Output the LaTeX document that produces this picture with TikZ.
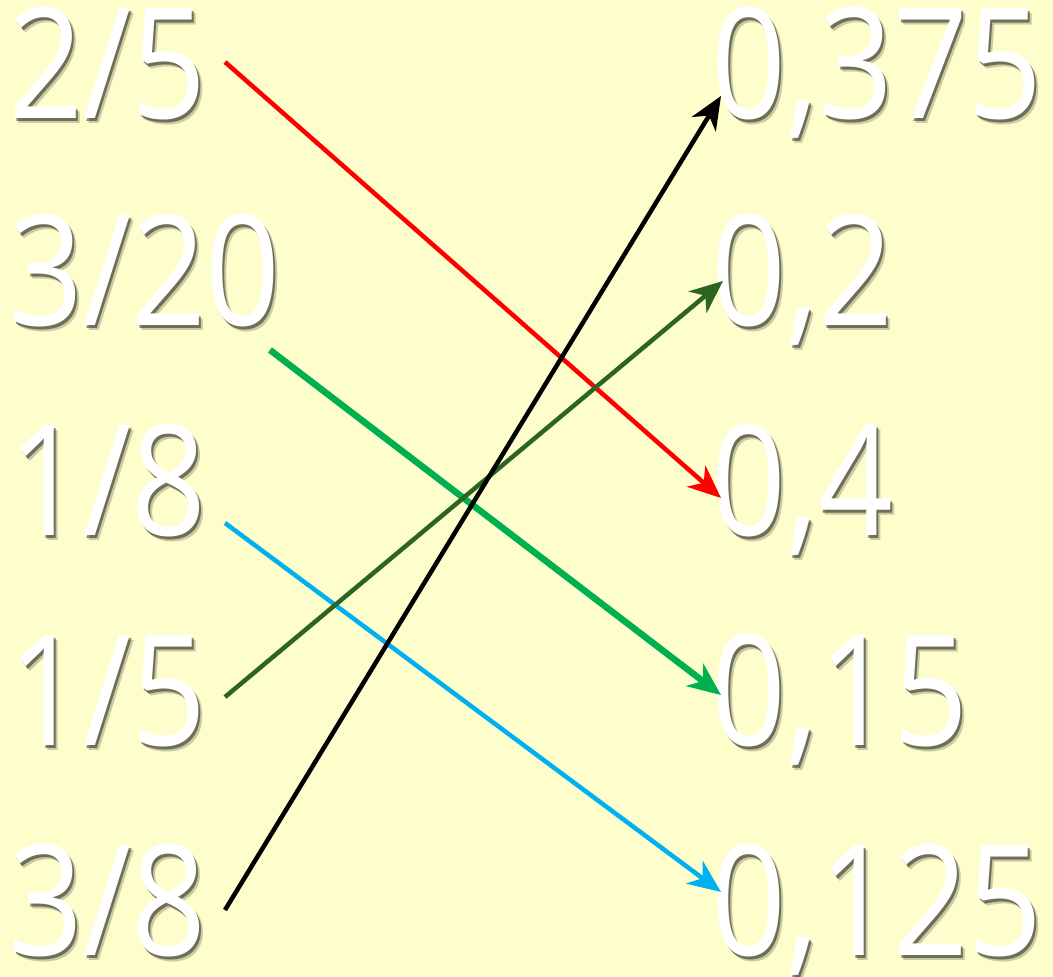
\documentclass[tikz,border=0pt]{standalone}
\usepackage{fontspec}
\setmainfont{Open Sans}
\usetikzlibrary{arrows.meta}
\definecolor{bg}{HTML}{FEFECC}
\definecolor{cred}{HTML}{FF0000}
\definecolor{cdkgreen}{HTML}{2B6521}
\definecolor{cgreen}{HTML}{00AF50}
\definecolor{cblue}{HTML}{00B0F0}
\tikzset{
  lbl/.style={anchor=base west, inner sep=0pt, text=white, font=\fontsize{154}{160}\selectfont},
  shd/.style={anchor=base west, inner sep=0pt, text=black, font=\fontsize{154}{160}\selectfont},
  conn/.style={line width=4.5pt, -{Stealth[length=33pt, width=28pt, inset=10pt]}},
}
\begin{document}
\begin{tikzpicture}[x=1pt,y=-1pt]
\fill[bg] (0,0) rectangle (1053,977);
\useasboundingbox (0,0) rectangle (1053,977);
% left labels
\foreach \t/\y/\n in {2\slash 5/118/l1, 3\slash 20/325/l2, 1\slash 8/535/l3, 1\slash 5/745/l4, 3\slash 8/955/l5}{
  \node[shd, opacity=0.2] at (12,\y+5) {\scalebox{0.85}[1]{\t}};
  \node[shd, opacity=0.45] at (10,\y+3) {\scalebox{0.85}[1]{\t}};
  \node[lbl] (\n) at (8,\y) {\scalebox{0.85}[1]{\t}};
}
\foreach \t/\y/\n in {{0,375}/118/r1, {0,2}/325/r2, {0,4}/535/r3, {0,15}/745/r4, {0,125}/955/r5}{
  \node[shd, opacity=0.2] at (715,\y+5) {\scalebox{0.85}[1]{\t}};
  \node[shd, opacity=0.45] at (713,\y+3) {\scalebox{0.85}[1]{\t}};
  \node[lbl] (\n) at (711,\y) {\scalebox{0.85}[1]{\t}};
}
\coordinate (s1) at (225,62);   \coordinate (e1) at (721,498);
\coordinate (s2) at (270,350);  \coordinate (e2) at (721,695);
\coordinate (s3) at (225,523);  \coordinate (e3) at (721,892);
\coordinate (s4) at (225,697);  \coordinate (e4) at (723,281);
\coordinate (s5) at (225,910);  \coordinate (e5) at (721,96);
\draw[conn, cred] (s1) -- (e1);
\draw[conn, cblue] (s3) -- (e3);
\draw[conn, cgreen, line width=6.5pt] (s2) -- (e2);
\draw[conn, cdkgreen] (s4) -- (e4);
\draw[conn, black] (s5) -- (e5);
\end{tikzpicture}
\end{document}
